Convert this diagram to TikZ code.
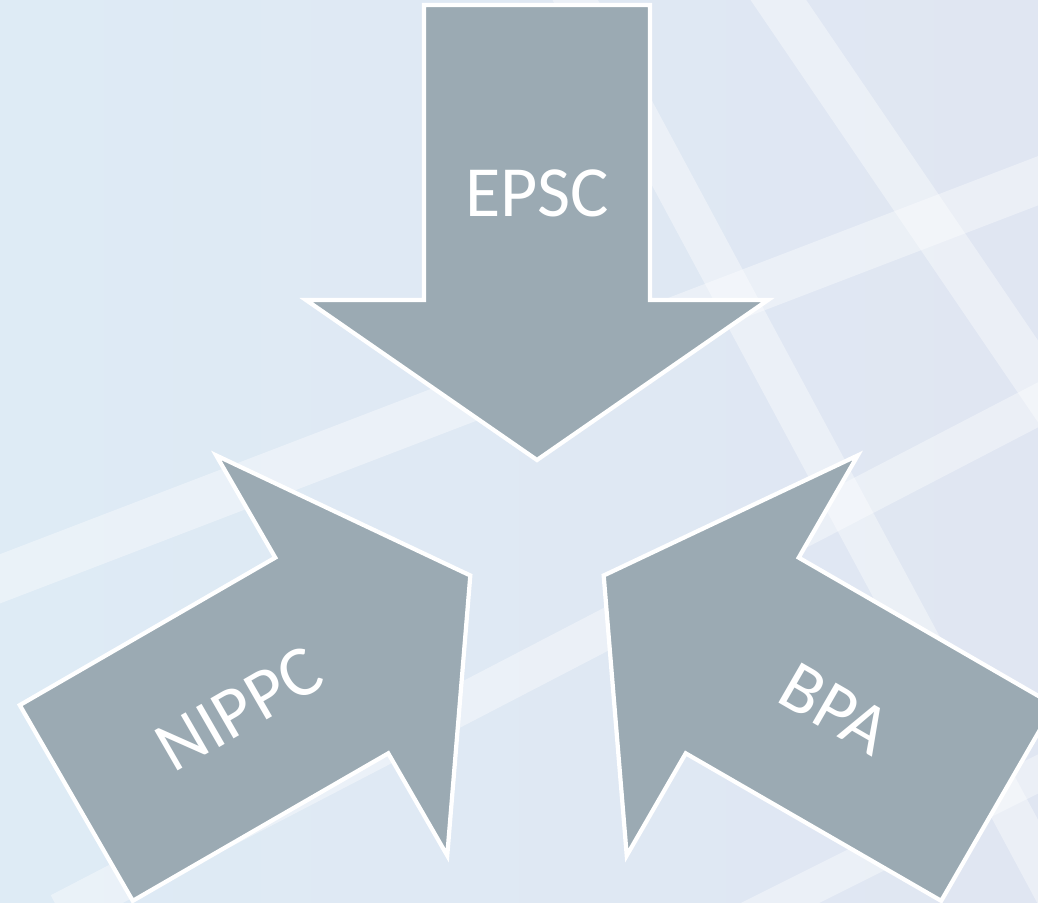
\documentclass[tikz,border=0pt]{standalone}
\usepackage{fontspec}
\setmainfont{Carlito}
\usetikzlibrary{calc}
\usetikzlibrary{positioning}

\definecolor{fondgauche}{RGB}{222,235,245}
\definecolor{fonddroite}{RGB}{224,230,242}
\definecolor{grisfleche}{RGB}{155,170,179}

\begin{document}
\begin{tikzpicture}
\tikzstyle{every node}=[font=\fontsize{20.5}{24}\selectfont, text=white, inner sep=0pt]
\tikzstyle{fleche}=[fill=grisfleche, draw=white, line width=1.2pt]
\tikzstyle{bande}=[white, opacity=0.38, line width=0.46cm]
\def\xmax{10.38}
\def\ymax{9.03}
% geometrie d'une fleche (pointe vers le centre)
\def\dtip{0.77}
\def\dhead{2.37}
\def\dtail{5.32}
\def\whead{2.31}
\def\wshaft{1.13}
\def\dtxt{3.44}

\clip (0,0) rectangle (\xmax,\ymax);

%=== Fond
\shade[left color=fondgauche, right color=fonddroite] (0,0) rectangle (\xmax,\ymax);
\draw[bande] (-0.5,3.05) -- (11,7.46);
\draw[bande] (7.6,9.3) -- (10.8,4.6);
\draw[bande,line width=0.4cm] (5.5,9.5) -- (10.6,0);
\draw[bande,line width=0.4cm] (0.6,-0.1) -- (10.8,5.2);
\draw[bande,line width=0.35cm] (7.4,-0.2) -- (10.8,1.5);

% Centre commun
\coordinate (C) at (5.37,3.66);

%=== Fleches
\foreach \ang/\nom/\txt/\rot in {0/epsc/EPSC/0, 120/nippc/NIPPC/30, -120/bpa/BPA/-30}{
\begin{scope}[shift={(C)},rotate=\ang]
\draw[fleche] (0,\dtip) -- (\whead,\dhead) -- (\wshaft,\dhead) -- (\wshaft,\dtail)
	-- (-\wshaft,\dtail) -- (-\wshaft,\dhead) -- (-\whead,\dhead) -- cycle;
\node[rotate=\rot] (\nom) at (0,\dtxt) {\txt};
\end{scope}
}
\end{tikzpicture}
\end{document}
